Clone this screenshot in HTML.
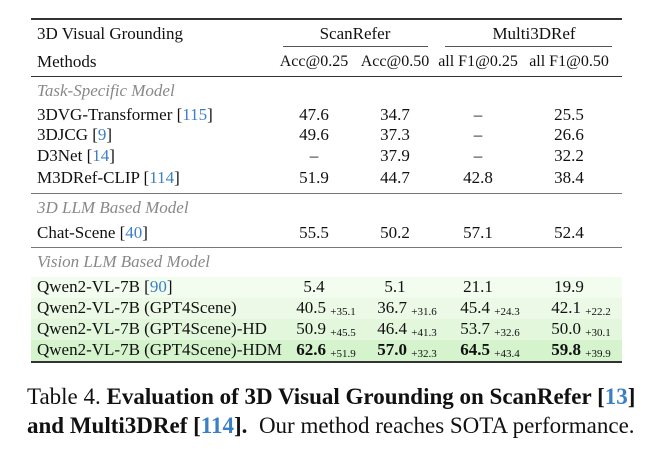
<!DOCTYPE html>
<html><head><meta charset="utf-8"><style>
body{margin:0;width:655px;height:452px;background:#fff;position:relative;font-family:"Liberation Serif","Times New Roman",serif;color:#111;overflow:hidden}
.a{position:absolute;white-space:nowrap;font-size:17px;line-height:18px}
.h{font-size:16px}
.c{transform:translateX(-50%)}
.r{position:absolute;left:31px;width:591px;background:#333}
.sec{color:#888;font-style:italic}
.ref{color:#3b7fc4}
.g{position:absolute;left:31px;width:591px}
sub{font-size:11px;vertical-align:-2px}
.cap{position:absolute;left:27px;font-size:23px;line-height:24px;white-space:nowrap}
</style></head><body>
<div class="r" style="top:18px;height:1.5px"></div>
<div class="a" style="left:37px;top:25px">3D Visual Grounding</div>
<div class="a c" style="left:355px;top:25px">ScanRefer</div>
<div class="a c" style="left:534px;top:25px">Multi3DRef</div>
<div class="r" style="left:283px;width:145px;top:46px;height:1px;background:#555"></div>
<div class="r" style="left:445px;width:167px;top:46px;height:1px;background:#555"></div>
<div class="a" style="left:37px;top:53px">Methods</div>
<div class="a c h" style="left:314px;top:53px">Acc@0.25</div>
<div class="a c h" style="left:395px;top:53px">Acc@0.50</div>
<div class="a c h" style="left:478px;top:53px">all F1@0.25</div>
<div class="a c h" style="left:569px;top:53px">all F1@0.50</div>
<div class="r" style="top:76px;height:1px"></div>
<div class="r" style="top:193px;height:1px;background:#777"></div>
<div class="r" style="top:247px;height:1px;background:#777"></div>
<div class="g" style="top:277px;height:21px;background:#f2fcef"></div>
<div class="g" style="top:298px;height:21px;background:#ebf9e6"></div>
<div class="g" style="top:319px;height:21px;background:#e3f7dd"></div>
<div class="g" style="top:340px;height:21px;background:#d5f3cc"></div>
<div class="r" style="top:361px;height:2px"></div>
<div id="rows"></div>
<div class="cap" style="top:385px">Table 4. <b>Evaluation of 3D Visual Grounding on ScanRefer [<span class="ref">13</span>]</b></div>
<div class="cap" style="top:414px"><b>and Multi3DRef [<span class="ref">114</span>].</b>&nbsp; Our method reaches SOTA performance.</div>
<script>
const sections=[["Task-Specific Model",82],["3D LLM Based Model",199],["Vision LLM Based Model",253]];
const names=["3DVG-Transformer","3DJCG","D3Net","M3DRef-CLIP","Chat-Scene","Qwen2-VL-7B","Qwen2-VL-7B (GPT4Scene)","Qwen2-VL-7B (GPT4Scene)-HD","Qwen2-VL-7B (GPT4Scene)-HDM"];
const refs=["115","9","14","114","40","90","","",""];
const rowTops=[106,126,147,169,224,277,298,319,340];
const acc25=["47.6","49.6","–","51.9","55.5","5.4","40.5","50.9","62.6"];
const acc50=["34.7","37.3","37.9","44.7","50.2","5.1","36.7","46.4","57.0"];
const f125=["–","–","–","42.8","57.1","21.1","45.4","53.7","64.5"];
const f150=["25.5","26.6","32.2","38.4","52.4","19.9","42.1","50.0","59.8"];
const gains=[null,null,null,null,null,null,["+35.1","+31.6","+24.3","+22.2"],["+45.5","+41.3","+32.6","+30.1"],["+51.9","+32.3","+43.4","+39.9"]];
const colX=[314,395,478,569];
const R=document.getElementById('rows');
sections.forEach(s=>{const d=document.createElement('div');d.className='a sec';d.style.left='37px';d.style.top=s[1]+'px';d.textContent=s[0];


R.appendChild(d);});
names.forEach((n,i)=>{const t=rowTops[i]+ (i>=5?1:0);
const d=document.createElement('div');d.className='a';d.style.left='37px';d.style.top=t+'px';
d.innerHTML=n+(refs[i]?' [<span class="ref">'+refs[i]+'</span>]':'');


R.appendChild(d);
[acc25,acc50,f125,f150].forEach((arr,j)=>{const c=document.createElement('div');c.className='a c';c.style.left=(colX[j]+(gains[i]?12:0))+'px';c.style.top=t+'px';
let v=arr[i];if(i==8)v='<b>'+v+'</b>';if(gains[i])v+=' <sub>'+gains[i][j]+'</sub>';c.innerHTML=v;


R.appendChild(c);});});
</script>
</body></html>
